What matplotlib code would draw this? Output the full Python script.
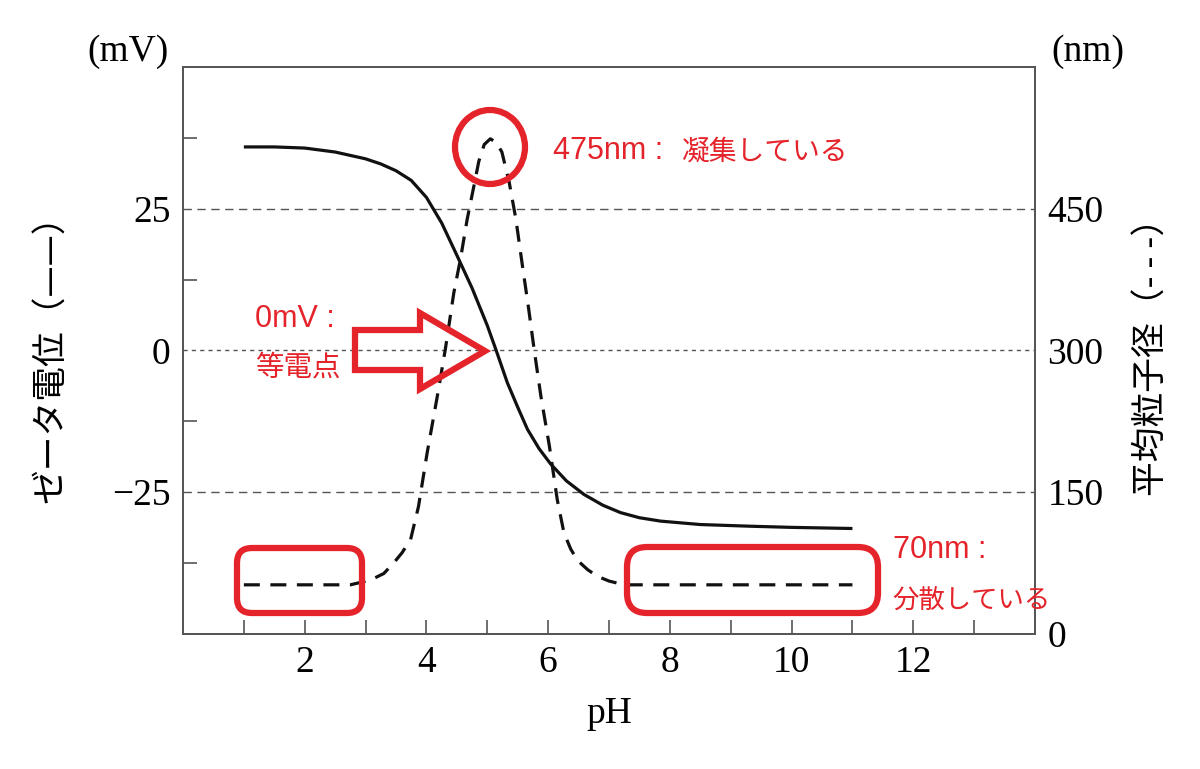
import matplotlib
matplotlib.use("Agg")
import matplotlib.pyplot as plt
from matplotlib.patches import Ellipse, FancyBboxPatch, Polygon

# ---- data ----
ph_zeta = [1.0, 1.5, 2.0, 2.5, 3.0, 3.25, 3.5, 3.75, 4.0, 4.25, 4.5, 4.75, 5.0, 5.14, 5.33,
           5.5, 5.66, 5.85, 6.04, 6.3, 6.59, 6.9, 7.19, 7.5, 7.85, 8.5, 9.33, 10.0, 10.5, 11.0]
zeta_mv = [35.9, 35.9, 35.7, 35.0, 33.8, 32.9, 31.7, 30.0, 27.0, 22.5, 16.8, 11.0, 4.4, 0.2, -5.7,
           -10.0, -13.9, -17.3, -20.0, -23.0, -25.4, -27.3, -28.6, -29.5, -30.1, -30.7, -31.0, -31.2, -31.3, -31.4]

ph_size = [1.0, 2.0, 2.75, 3.08, 3.3, 3.46, 3.6, 3.74, 3.87, 4.01, 4.18, 4.31, 4.45, 4.56, 4.67,
           4.78, 4.86, 4.95, 5.05, 5.15, 5.24, 5.36, 5.47, 5.57, 5.68, 5.77, 5.88, 6.02, 6.15,
           6.26, 6.37, 6.48, 6.65, 6.81, 7.0, 7.25, 8.0, 9.0, 10.0, 11.0]
size_nm = [52, 52, 52, 57, 64, 75, 86, 100, 135, 191, 252, 301, 361, 397, 439,
           474, 500, 518, 524, 520, 510, 478, 439, 393, 344, 301, 252, 199, 142,
           107, 90, 78, 68, 61, 56, 52, 52, 52, 52, 52]

xticks = [2, 4, 6, 8, 10, 12]
left_ticks = [25, 0, -25]
left_ticklabels = ["25", "0", "\u221225"]
right_ticks = [0, 150, 300, 450]
right_ticklabels = ["0", "150", "300", "450"]

RED = "#e5232a"
GRAY = "#555555"
SERIF = ["Liberation Serif", "DejaVu Serif"]
JP = ["Noto Sans CJK JP", "DejaVu Sans"]
LAT = ["Liberation Sans", "Noto Sans CJK JP"]

fig = plt.figure(figsize=(12, 7.69), dpi=100)
ax = fig.add_axes([0.1525, 0.1756, 0.71, 0.7373])
ax2 = ax.twinx()

ax.set_xlim(0, 14)
ax.set_ylim(-50, 50)
ax2.set_ylim(0, 600)

# grid lines
ax.axhline(25, color=GRAY, lw=1.0, ls=(0, (6, 4)), zorder=1)
ax.axhline(-25, color=GRAY, lw=1.0, ls=(0, (6, 4)), zorder=1)
ax.axhline(0, color=GRAY, lw=1.0, ls=(0, (3, 3)), zorder=1)

ax.plot(ph_zeta, zeta_mv, color="#111111", lw=2.3, solid_capstyle="butt",
        solid_joinstyle="round", zorder=3)
ax2.plot(ph_size, size_nm, color="#111111", lw=2.3, ls=(0, (5, 3.3)),
         dash_joinstyle="round", zorder=3)

for a in (ax, ax2):
    for s in a.spines.values():
        s.set_color(GRAY)
        s.set_linewidth(1.3)

ax.set_xticks(xticks)
ax.set_xticks(range(1, 14), minor=True)
ax.set_xticklabels([str(t) for t in xticks], fontfamily=SERIF, fontsize=27)
ax.tick_params(axis="x", which="both", direction="in", length=10, width=1.2, color=GRAY, pad=8)

ax.set_yticks(left_ticks)
ax.set_yticklabels(left_ticklabels, fontfamily=SERIF, fontsize=27)
ax.set_yticks([37.5, 12.5, -12.5, -37.5], minor=True)
ax.tick_params(axis="y", which="major", length=0, pad=9)
ax.tick_params(axis="y", which="minor", direction="in", length=10, width=1.2, color=GRAY)

ax2.set_yticks(right_ticks)
ax2.set_yticklabels(right_ticklabels, fontfamily=SERIF, fontsize=27)
ax2.tick_params(axis="y", which="major", length=0, pad=9)

ax.set_xlabel("pH", fontfamily=SERIF, fontsize=27, labelpad=12)

fig.text(128 / 1200, 1 - 52 / 769, "(mV)", fontfamily=SERIF, fontsize=27, ha="center", va="center")
fig.text(1088 / 1200, 1 - 52 / 769, "(nm)", fontfamily=SERIF, fontsize=27, ha="center", va="center")
fig.text(52 / 1200, 1 - 350 / 769, "ゼータ電位（——）", fontfamily=JP, fontsize=25,
         rotation=90, ha="center", va="center")
fig.text(1152 / 1200, 1 - 348 / 769, "平均粒子径（- - -）", fontfamily=JP, fontsize=25,
         rotation=90, ha="center", va="center")

# overlay in pixel coordinates for the red annotations
ov = fig.add_axes([0, 0, 1, 1], zorder=10)
ov.set_xlim(0, 1200)
ov.set_ylim(769, 0)
ov.axis("off")
ov.patch.set_alpha(0)

ov.add_patch(Ellipse((490, 147), 70, 74, fill=False, ec=RED, lw=4.5))
ov.add_patch(FancyBboxPatch((252, 563), 95, 35, boxstyle="round,pad=15,rounding_size=15",
                            fill=False, ec=RED, lw=4.5))
ov.add_patch(FancyBboxPatch((647, 567), 211, 26, boxstyle="round,pad=20,rounding_size=20",
                            fill=False, ec=RED, lw=4.5))
ov.add_patch(Polygon([(355, 330), (420, 330), (420, 313), (485, 351), (420, 389), (420, 370), (355, 370)],
                     closed=True, fill=False, ec=RED, lw=4.5, joinstyle="miter"))

ov.text(553, 151, "475nm :", color=RED, fontfamily=LAT, fontsize=22, ha="left", va="center")
ov.text(682, 152, "凝集している", color=RED, fontfamily=JP, fontsize=20, ha="left", va="center")
ov.text(255, 319, "0mV :", color=RED, fontfamily=LAT, fontsize=22, ha="left", va="center")
ov.text(255, 368, "等電点", color=RED, fontfamily=JP, fontsize=20.5, ha="left", va="center")
ov.text(893, 550, "70nm :", color=RED, fontfamily=LAT, fontsize=22, ha="left", va="center")
ov.text(892, 600, "分散している", color=RED, fontfamily=JP, fontsize=19, ha="left", va="center")

fig.savefig("out.png", dpi=100)
